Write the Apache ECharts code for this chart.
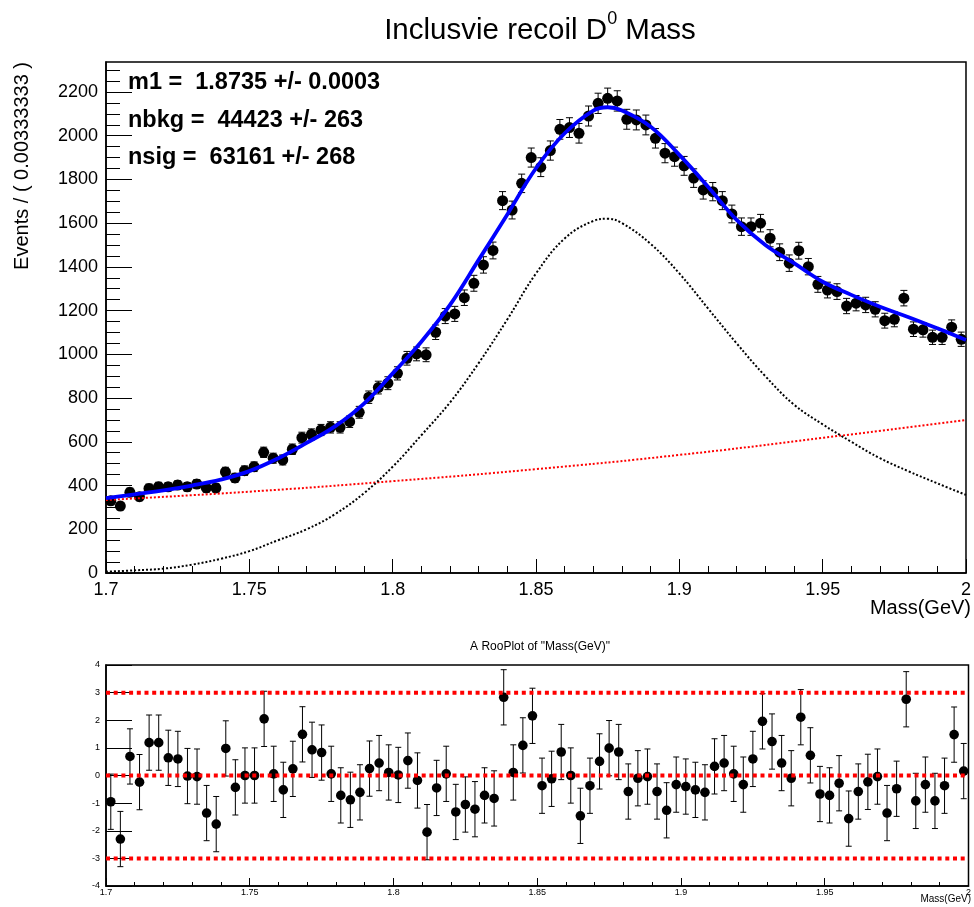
<!DOCTYPE html>
<html>
<head>
<meta charset="utf-8">
<title>Inclusvie recoil D0 Mass</title>
<script src="https://cdn.jsdelivr.net/npm/echarts@6/dist/echarts.min.js"></script>
<style>
  html, body { margin: 0; padding: 0; background: #fff; }
  #chart { width: 974px; height: 907px; }
</style>
</head>
<body>
<div id="chart"></div>
<script>
// ---- binning of the mass histogram (90 bins over 1.7 - 2.0 GeV) ----
const massMin = 1.7;
const massMax = 2.0;
const nBins = 90;

// events per bin
const counts = [
  330, 306, 369, 349, 387, 395, 394, 402, 394, 407,
  389, 389, 462, 435, 468, 486, 552, 525, 517, 566,
  619, 634, 654, 666, 666, 692, 735, 804, 848, 868,
  913, 982, 1002, 998, 1101, 1175, 1185, 1259, 1325, 1409,
  1475, 1703, 1660, 1782, 1900, 1856, 1932, 2029, 2037, 2011,
  2090, 2148, 2171, 2159, 2075, 2072, 2049, 1988, 1920, 1904,
  1862, 1806, 1752, 1744, 1703, 1642, 1584, 1584, 1600, 1531,
  1467, 1417, 1474, 1401, 1320, 1294, 1287, 1221, 1234, 1226,
  1206, 1154, 1160, 1257, 1115, 1112, 1078, 1078, 1124, 1069
];

// pull of each bin with respect to the fit
const pulls = [
  -0.95, -2.30, 0.69, -0.24, 1.19, 1.19, 0.64, 0.60, -0.02, -0.04,
  -1.36, -1.76, 0.98, -0.43, 0.00, 0.00, 2.05, 0.06, -0.52, 0.24,
  1.49, 0.93, 0.83, 0.06, -0.72, -0.88, -0.61, 0.25, 0.45, 0.11,
  0.02, 0.54, -0.18, -2.05, -0.45, 0.06, -1.32, -1.05, -1.22, -0.72,
  -0.83, 2.83, 0.11, 1.09, 2.16, -0.37, -0.12, 0.85, 0.00, -1.46,
  -0.37, 0.51, 0.99, 0.85, -0.58, -0.10, -0.04, -0.58, -1.26, -0.33,
  -0.40, -0.52, -0.61, 0.33, 0.45, 0.06, -0.33, 0.60, 1.96, 1.23,
  0.45, -0.10, 2.11, 0.73, -0.67, -0.72, -0.28, -1.56, -0.58, -0.23,
  -0.04, -1.36, -0.48, 2.76, -0.92, -0.33, -0.92, -0.37, 1.48, 0.16
];

// fitted model sampled along the mass axis
const curveMass = [
  1.70, 1.71, 1.72, 1.73, 1.74, 1.75, 1.76, 1.77, 1.78, 1.79,
  1.80, 1.81, 1.82, 1.83, 1.84, 1.85, 1.86, 1.87, 1.875, 1.88,
  1.89, 1.90, 1.91, 1.92, 1.93, 1.94, 1.95, 1.96, 1.97, 1.98,
  1.99, 2.00
];
const totalFit = [
  342, 360, 378, 400, 427, 466, 524, 595, 672, 775,
  913, 1058, 1226, 1432, 1640, 1851, 2011, 2115, 2130, 2115,
  2041, 1912, 1767, 1615, 1500, 1417, 1332, 1272, 1218, 1170,
  1119, 1066
];
const signalFit = [
  6, 12, 20, 38, 65, 100, 150, 200, 270, 365,
  486, 630, 780, 960, 1160, 1370, 1530, 1610, 1620, 1600,
  1505, 1370, 1210, 1050, 900, 770, 680, 600, 525, 465,
  410, 357
];
const bkgMass = [1.70, 1.75, 1.80, 1.85, 1.90, 1.95, 2.00];
const bkgFit = [334, 372, 420, 475, 540, 618, 700];

// pull reference levels
const pullLevels = [3, 0, -3];

// fit results
const fitResults = [
  'm1 =  1.8735 +/- 0.0003',
  'nbkg =  44423 +/- 263',
  'nsig =  63161 +/- 268'
];

// ---- derived series ----
const binWidth = (massMax - massMin) / nBins;
const binCenters = counts.map((_, i) => massMin + (i + 0.5) * binWidth);
const countData = counts.map((n, i) => [binCenters[i], n, Math.sqrt(n)]);
const pullData = pulls.map((p, i) => [binCenters[i], p, 1]);
const zip = (xs, ys) => xs.map((x, i) => [x, ys[i]]);

// point marker with a vertical error bar and end caps
function errorBars(capHalf, radius) {
  return function (params, api) {
    const x = api.value(0), y = api.value(1), e = api.value(2);
    const c = api.coord([x, y]);
    const top = api.coord([x, y + e])[1];
    const bot = api.coord([x, y - e])[1];
    const st = { stroke: '#000', lineWidth: 1 };
    return {
      type: 'group',
      children: [
        { type: 'line', shape: { x1: c[0], y1: top, x2: c[0], y2: bot }, style: st },
        { type: 'line', shape: { x1: c[0] - capHalf, y1: top, x2: c[0] + capHalf, y2: top }, style: st },
        { type: 'line', shape: { x1: c[0] - capHalf, y1: bot, x2: c[0] + capHalf, y2: bot }, style: st },
        { type: 'circle', shape: { cx: c[0], cy: c[1], r: radius }, style: { fill: '#000' } }
      ]
    };
  };
}

const FONT = '"Liberation Sans", Arial, Helvetica, sans-serif';
const range = (a, b, s) => { const r = []; for (let v = a; v <= b + 1e-9; v += s) r.push(Math.round(v * 1000) / 1000); return r; };
const yMajor = range(0, 2200, 200);
const yMinor = range(0, 2300, 50);
const plain = (v) => String(v);

const G1 = { left: 106, top: 62, width: 865, height: 511 };
const G2 = { left: 106, top: 665, width: 865, height: 221 };

const chart = echarts.init(document.getElementById('chart'), null, { renderer: 'canvas' });

const option = {
  animation: false,
  backgroundColor: '#fff',
  textStyle: { fontFamily: FONT },
  grid: [
    Object.assign({ show: true, borderColor: '#000', borderWidth: 1.5 }, G1),
    Object.assign({ show: true, borderColor: '#000', borderWidth: 1.5 }, G2)
  ],
  xAxis: [
    {
      gridIndex: 0, type: 'value', min: massMin, max: massMax, interval: 0.05,
      axisLine: { show: true, onZero: false, lineStyle: { color: '#000', width: 1.5 } },
      axisTick: { show: true, inside: true, length: 14, lineStyle: { color: '#000' } },
      minorTick: { show: true, splitNumber: 5, length: 7, lineStyle: { color: '#000' } },
      splitLine: { show: false },
      axisLabel: { color: '#000', fontSize: 18, margin: 8, fontFamily: FONT, formatter: plain }
    },
    {
      gridIndex: 1, type: 'value', min: massMin, max: massMax, interval: 0.05,
      axisLine: { show: true, onZero: false, lineStyle: { color: '#000', width: 1.5 } },
      axisTick: { show: true, inside: true, length: 8, lineStyle: { color: '#000' } },
      minorTick: { show: true, splitNumber: 5, length: 4, lineStyle: { color: '#000' } },
      splitLine: { show: false },
      axisLabel: { color: '#000', fontSize: 9, margin: 2, fontFamily: FONT, formatter: plain }
    }
  ],
  yAxis: [
    {
      gridIndex: 0, type: 'value', min: 0, max: 2337,
      axisLine: { show: true, lineStyle: { color: '#000', width: 1.5 } },
      axisTick: { show: true, inside: true, length: 26, customValues: yMajor, lineStyle: { color: '#000' } },
      splitLine: { show: false },
      axisLabel: { color: '#000', fontSize: 18, margin: 8, customValues: yMajor, fontFamily: FONT, formatter: plain }
    },
    {
      gridIndex: 0, type: 'value', min: 0, max: 2337, position: 'left',
      axisLine: { show: false },
      axisTick: { show: true, inside: true, length: 14, customValues: yMinor, lineStyle: { color: '#000' } },
      splitLine: { show: false },
      axisLabel: { show: false }
    },
    {
      gridIndex: 1, type: 'value', min: -4, max: 4, interval: 1,
      axisLine: { show: true, lineStyle: { color: '#000', width: 1.5 } },
      axisTick: { show: true, inside: true, length: 26, lineStyle: { color: '#000' } },
      splitLine: { show: false },
      axisLabel: { color: '#000', fontSize: 9, margin: 6, fontFamily: FONT, formatter: plain }
    }
  ],
  series: [
    {
      name: 'data', type: 'custom', xAxisIndex: 0, yAxisIndex: 0, z: 2,
      renderItem: errorBars(3.5, 5.5), data: countData, clip: false
    },
    {
      name: 'background', type: 'line', xAxisIndex: 0, yAxisIndex: 0, z: 3,
      data: zip(bkgMass, bkgFit), smooth: true, showSymbol: false,
      lineStyle: { color: '#ff0000', width: 2, type: [2, 2] }
    },
    {
      name: 'signal', type: 'line', xAxisIndex: 0, yAxisIndex: 0, z: 3,
      data: zip(curveMass, signalFit), smooth: 0.4, showSymbol: false,
      lineStyle: { color: '#000', width: 2, type: [2, 2] }
    },
    {
      name: 'total', type: 'line', xAxisIndex: 0, yAxisIndex: 0, z: 4,
      data: zip(curveMass, totalFit), smooth: 0.4, showSymbol: false,
      lineStyle: { color: '#0000ff', width: 3.8 }
    },
    {
      name: 'pull', type: 'custom', xAxisIndex: 1, yAxisIndex: 2, z: 2,
      renderItem: errorBars(3, 4.8), data: pullData, clip: false
    }
  ].concat(pullLevels.map((lv) => ({
    name: 'level' + lv, type: 'line', xAxisIndex: 1, yAxisIndex: 2, z: 3,
    data: [[massMin, lv], [massMax, lv]], showSymbol: false,
    lineStyle: { color: '#ff0000', width: 4, type: [4, 3.7] }
  }))),
  graphic: [
    {
      type: 'text', x: 540, y: 10,
      style: {
        text: '{a|Inclusvie recoil D}{s|0}{a| Mass}',
        align: 'center',
        rich: {
          a: { fontSize: 29.5, fontFamily: FONT, fill: '#000', lineHeight: 36, verticalAlign: 'bottom' },
          s: { fontSize: 18, fontFamily: FONT, fill: '#000', lineHeight: 36, verticalAlign: 'top', padding: [0, 0, 14, 0] }
        }
      }
    },
    {
      type: 'text', x: 22, y: 62, rotation: Math.PI / 2,
      style: { text: 'Events / ( 0.00333333 )', fontSize: 20, fontFamily: FONT, fill: '#000', align: 'right', verticalAlign: 'middle' }
    },
    {
      type: 'text', x: 971, y: 608,
      style: { text: 'Mass(GeV)', fontSize: 20, fontFamily: FONT, fill: '#000', align: 'right', verticalAlign: 'middle' }
    },
    {
      type: 'text', x: 540, y: 647,
      style: { text: 'A RooPlot of "Mass(GeV)"', fontSize: 12, fontFamily: FONT, fill: '#000', align: 'center', verticalAlign: 'middle' }
    },
    {
      type: 'text', x: 971, y: 899,
      style: { text: 'Mass(GeV)', fontSize: 10, fontFamily: FONT, fill: '#000', align: 'right', verticalAlign: 'middle' }
    }
  ].concat(fitResults.map((t, i) => ({
    type: 'text', x: 128, y: 83 + i * 37.5,
    style: { text: t, fontSize: 23.5, fontWeight: 'bold', fontFamily: FONT, fill: '#000', align: 'left', verticalAlign: 'middle' }
  })))
};

chart.setOption(option);
</script>
</body>
</html>
